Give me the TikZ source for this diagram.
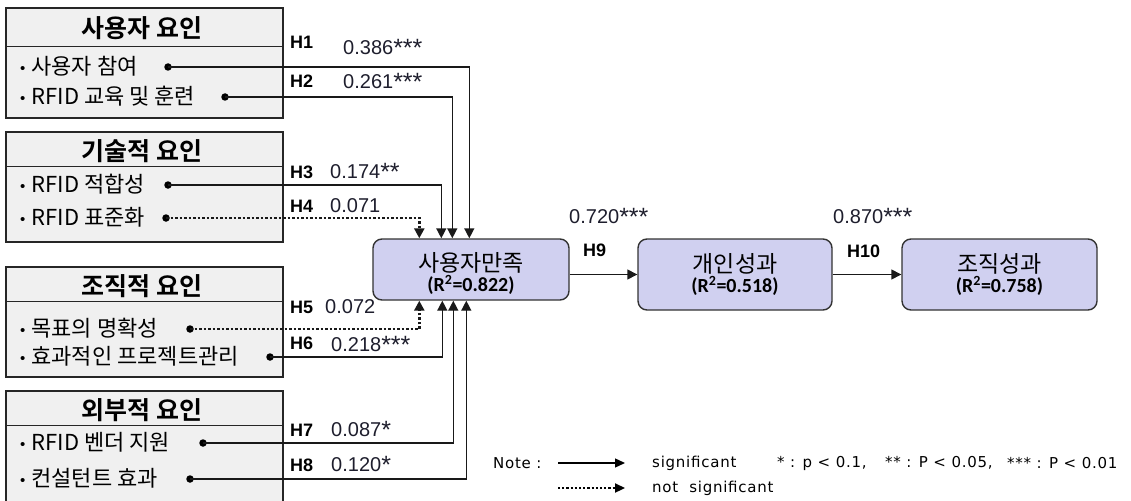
\documentclass[tikz,border=0pt]{standalone}
\usepackage{fontspec}
\setmainfont{Liberation Sans}
\newfontfamily\kr[BoldFont={Noto Sans CJK KR Bold}]{Noto Sans CJK KR}
\newfontfamily\crl{Carlito}
\newfontfamily\legf[LetterSpace=5]{DejaVu Sans}
\usetikzlibrary{arrows.meta}
\definecolor{boxfill}{RGB}{240,240,240}
\definecolor{lav}{RGB}{208,208,240}
\definecolor{numc}{RGB}{30,30,45}
\newcommand\mybul{{\rmfamily\fontsize{15}{15}\selectfont\raisebox{1pt}{•}}\hspace{6pt}}
\newcommand\myst[1]{{\fontsize{25}{25}\selectfont\raisebox{-2pt}{#1}}}
\tikzset{
  fbox/.style={draw=black!85, fill=boxfill, line width=1.4pt, minimum width=277pt, inner sep=0pt},
  divl/.style={draw=black!85, line width=1.4pt},
  hdr/.style={inner sep=0pt, font=\kr\bfseries\fontsize{25}{27}\selectfont},
  item/.style={inner sep=0pt, anchor=west, font=\kr\fontsize{22}{24}\selectfont},
  dot/.style={circle, fill=black, inner sep=0pt, minimum size=7.5pt},
  dvbox/.style={draw=black!80, fill=lav, line width=1.4pt, rounded corners=9pt, inner sep=0pt},
  dvt/.style={inner sep=0pt, font=\kr\fontsize{23}{25}\selectfont},
  rt/.style={inner sep=0pt, font=\crl\bfseries\fontsize{20}{22}\selectfont},
  hl/.style={inner sep=0pt, anchor=west, font=\bfseries\fontsize{18}{20}\selectfont},
  vl/.style={inner sep=0pt, anchor=west, text=numc, font=\fontsize{20}{22}\selectfont},
  sig/.style={draw=black!90, line width=1.4pt, -{Triangle[length=10pt,width=10pt]}},
  nsig/.style={draw=black!90, line width=2.5pt, dash pattern=on 2.5pt off 2pt, -{Triangle[length=10pt,width=10pt]}},
  lg/.style={inner sep=0pt, anchor=west, font=\legf\fontsize{15}{17}\selectfont},
  sigL/.style={draw=black, line width=1.3pt, -{Triangle[length=10pt,width=9pt]}},
  nsigL/.style={draw=black, line width=2.2pt, dash pattern=on 2.2pt off 2pt, -{Triangle[length=10pt,width=9pt]}}
}
\begin{document}
\begin{tikzpicture}[x=1pt,y=-1pt]
\useasboundingbox (0,0) rectangle (1131,500);
% factor boxes
\node[fbox, minimum height=110pt] (b1) at (144.5,63) {};
\node[fbox, minimum height=110pt] (b2) at (144.5,187) {};
\node[fbox, minimum height=110pt] (b3) at (144.5,322) {};
\node[fbox, minimum height=120pt] (b4) at (144.5,451) {};
\draw[divl] ([yshift=-39pt]b1.north west) -- ([yshift=-39pt]b1.north east);
\draw[divl] ([yshift=-35pt]b2.north west) -- ([yshift=-35pt]b2.north east);
\draw[divl] ([yshift=-35pt]b3.north west) -- ([yshift=-35pt]b3.north east);
\draw[divl] ([yshift=-35pt]b4.north west) -- ([yshift=-35pt]b4.north east);
\node[hdr] (h1) at (142,28) {사용자 요인};
\node[hdr] (h2) at (142,151) {기술적 요인};
\node[hdr] (h3) at (142,286) {조직적 요인};
\node[hdr] (h4) at (142,410) {외부적 요인};
% items
\node[item] (i1) at (20,66) {\mybul 사용자 참여};
\node[item] (i2) at (20,96) {\mybul RFID 교육 및 훈련};
\node[item] (i3) at (20,184) {\mybul RFID 적합성};
\node[item] (i4) at (20,217) {\mybul RFID 표준화};
\node[item] (i5) at (20,328) {\mybul 목표의 명확성};
\node[item] (i6) at (20,356) {\mybul 효과적인 프로젝트관리};
\node[item] (i7) at (20,442) {\mybul RFID 벤더 지원};
\node[item] (i8) at (20,478) {\mybul 컨설턴트 효과};
% dots
\node[dot] (d1) at (168,67) {};
\node[dot] (d2) at (225,97) {};
\node[dot] (d3) at (168,185) {};
\node[dot] (d4) at (166,218) {};
\node[dot] (d5) at (190,329) {};
\node[dot] (d6) at (270,357) {};
\node[dot] (d7) at (203,443) {};
\node[dot] (d8) at (190,479) {};
% labels
\node[hl] (lH1) at (290,42) {H1};
\node[vl] (v1) at (343,48) {0.386\myst{***}};
\node[hl] (lH2) at (290,81) {H2};
\node[vl] (v2) at (343,82) {0.261\myst{***}};
\node[hl] (lH3) at (290,172) {H3};
\node[vl] (v3) at (330,172) {0.174\myst{**}};
\node[hl] (lH4) at (290,206) {H4};
\node[vl] (v4) at (330,206) {0.071};
\node[hl] (lH5) at (290,307) {H5};
\node[vl] (v5) at (325,307) {0.072};
\node[hl] (lH6) at (290,343) {H6};
\node[vl] (v6) at (331,345) {0.218\myst{***}};
\node[hl] (lH7) at (290,430) {H7};
\node[vl] (v7) at (331,430) {0.087\myst{*}};
\node[hl] (lH8) at (290,465) {H8};
\node[vl] (v8) at (331,465) {0.120\myst{*}};
% dependent boxes
\node[dvbox, minimum width=196pt, minimum height=61pt] (sat) at (471,269.5) {};
\node[dvbox, minimum width=194pt, minimum height=71pt] (ind) at (735,274.5) {};
\node[dvbox, minimum width=195pt, minimum height=71pt] (org) at (999.5,274.5) {};
\node[dvt] (satT) at (471,263) {사용자만족};
\node[rt] (satR) at (471,285) {(R\textsuperscript{2}=0.822)};
\node[dvt] (indT) at (735,264) {개인성과};
\node[rt] (indR) at (735,286) {(R\textsuperscript{2}=0.518)};
\node[dvt] (orgT) at (999.5,264) {조직성과};
\node[rt] (orgR) at (999.5,286) {(R\textsuperscript{2}=0.758)};
\node[hl] (lH9) at (583,250) {H9};
\node[vl] (v9) at (569,217) {0.720\myst{***}};
\node[hl] (lH10) at (847,251) {H10};
\node[vl] (v10) at (833,217) {0.870\myst{***}};
% connectors
\draw[sig] (d1.center) -| ([xshift=97pt]sat.north west);
\draw[sig] (d2.center) -| ([xshift=80pt]sat.north west);
\draw[sig] (d3.center) -| ([xshift=69pt]sat.north west);
\draw[nsig] (d4.center) -| ([xshift=47pt]sat.north west);
\draw[nsig] (d5.center) -| ([xshift=47pt]sat.south west);
\draw[sig] (d6.center) -| ([xshift=70pt]sat.south west);
\draw[sig] (d7.center) -| ([xshift=81pt]sat.south west);
\draw[sig] (d8.center) -| ([xshift=94pt]sat.south west);
\draw[sig] (sat.east |- ind.west) -- (ind.west);
\draw[sig] (ind.east) -- (org.west);
% legend
\node[lg] (nt) at (493,463) {Note :};
\coordinate (la1) at (558,463);
\coordinate (la2) at (625,463);
\draw[sigL] (la1) -- (la2);
\node[lg] (ls) at (652,463) {significant};
\node[lg] (lp1) at (777,463) {* : p < 0.1,};
\node[lg] (lp2) at (885,463) {** : P < 0.05,};
\node[lg] (lp3) at (1007,463) {*** : P < 0.01};
\coordinate (lb1) at (558,488);
\coordinate (lb2) at (625,488);
\draw[nsigL] (lb1) -- (lb2);
\node[lg] (ln) at (652,488) {not\ \ significant};
\end{tikzpicture}
\end{document}
